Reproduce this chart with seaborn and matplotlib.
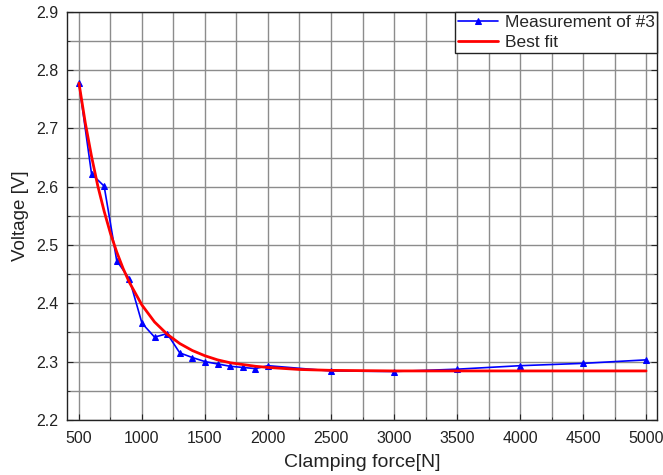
import numpy as np
import pandas as pd
import matplotlib
matplotlib.use('Agg')
import matplotlib.pyplot as plt
from matplotlib.ticker import MultipleLocator
import seaborn as sns

force = [500, 600, 700, 800, 900, 1000, 1100, 1200, 1300, 1400, 1500,
         1600, 1700, 1800, 1900, 2000, 2500, 3000, 3500, 4000, 4500, 5000]
voltage = [2.778, 2.622, 2.601, 2.473, 2.442, 2.366, 2.342, 2.348, 2.315, 2.307, 2.300,
           2.296, 2.292, 2.290, 2.288, 2.293, 2.284, 2.283, 2.287, 2.293, 2.297, 2.303]

# best fit curve
fit_force = [500, 550, 600, 650, 700, 750, 800, 850, 900, 1000, 1100, 1200, 1300,
             1400, 1500, 1600, 1700, 1800, 1900, 2000, 2250, 2500, 3000, 4000, 5000]
fit_voltage = [2.778, 2.710, 2.652, 2.601, 2.558, 2.520, 2.488, 2.460, 2.436, 2.397, 2.368,
               2.347, 2.331, 2.319, 2.310, 2.303, 2.298, 2.295, 2.292, 2.290, 2.2865,
               2.285, 2.284, 2.284, 2.284]

meas = pd.DataFrame({'force': force, 'voltage': voltage})
fit = pd.DataFrame({'force': fit_force, 'voltage': fit_voltage})

sns.set_style('ticks')
plt.rcParams['font.family'] = ['Liberation Sans', 'DejaVu Sans']

fig = plt.figure(figsize=(6.63, 4.75), dpi=100)
ax = fig.add_axes([0.101, 0.116, 0.890, 0.859])

sns.lineplot(data=meas, x='force', y='voltage', ax=ax, color='#0000ff', lw=1.2,
             marker='^', markersize=5, markeredgecolor='#0000ff',
             label='Measurement of #3', zorder=3)
sns.lineplot(data=fit, x='force', y='voltage', ax=ax, color='#ff0000', lw=2,
             label='Best fit', zorder=4)

ax.set_xlim(405, 5087)
ax.set_ylim(2.2, 2.9)
ax.xaxis.set_major_locator(MultipleLocator(500))
ax.xaxis.set_minor_locator(MultipleLocator(250))
ax.yaxis.set_major_locator(MultipleLocator(0.1))
ax.yaxis.set_minor_locator(MultipleLocator(0.05))
ax.yaxis.set_major_formatter(matplotlib.ticker.FormatStrFormatter('%.1f'))

ax.grid(True, which='both', color='#8c8c8c', lw=1.0)
ax.set_axisbelow(True)
ax.tick_params(which='both', direction='in', top=False, right=True, labelsize=11.5,
               colors='#222222')
ax.tick_params(axis='x', which='major', pad=8)
ax.tick_params(axis='y', which='major', pad=6)
ax.tick_params(which='major', length=4)
ax.tick_params(which='minor', length=2)
for s in ax.spines.values():
    s.set_color('#222222')
    s.set_linewidth(1.0)

ax.set_xlabel('Clamping force[N]', fontsize=14, color='#222222', labelpad=6)
ax.set_ylabel('Voltage [V]', fontsize=13.5, color='#222222', labelpad=5)

leg = ax.legend(loc='upper right', borderaxespad=0, fancybox=False, framealpha=1,
                edgecolor='#222222', fontsize=12.5, handlelength=2.3,
                handletextpad=0.4, borderpad=0.15, labelspacing=0.3)
leg.get_frame().set_linewidth(1.0)

fig.savefig('out.png', dpi=100)
